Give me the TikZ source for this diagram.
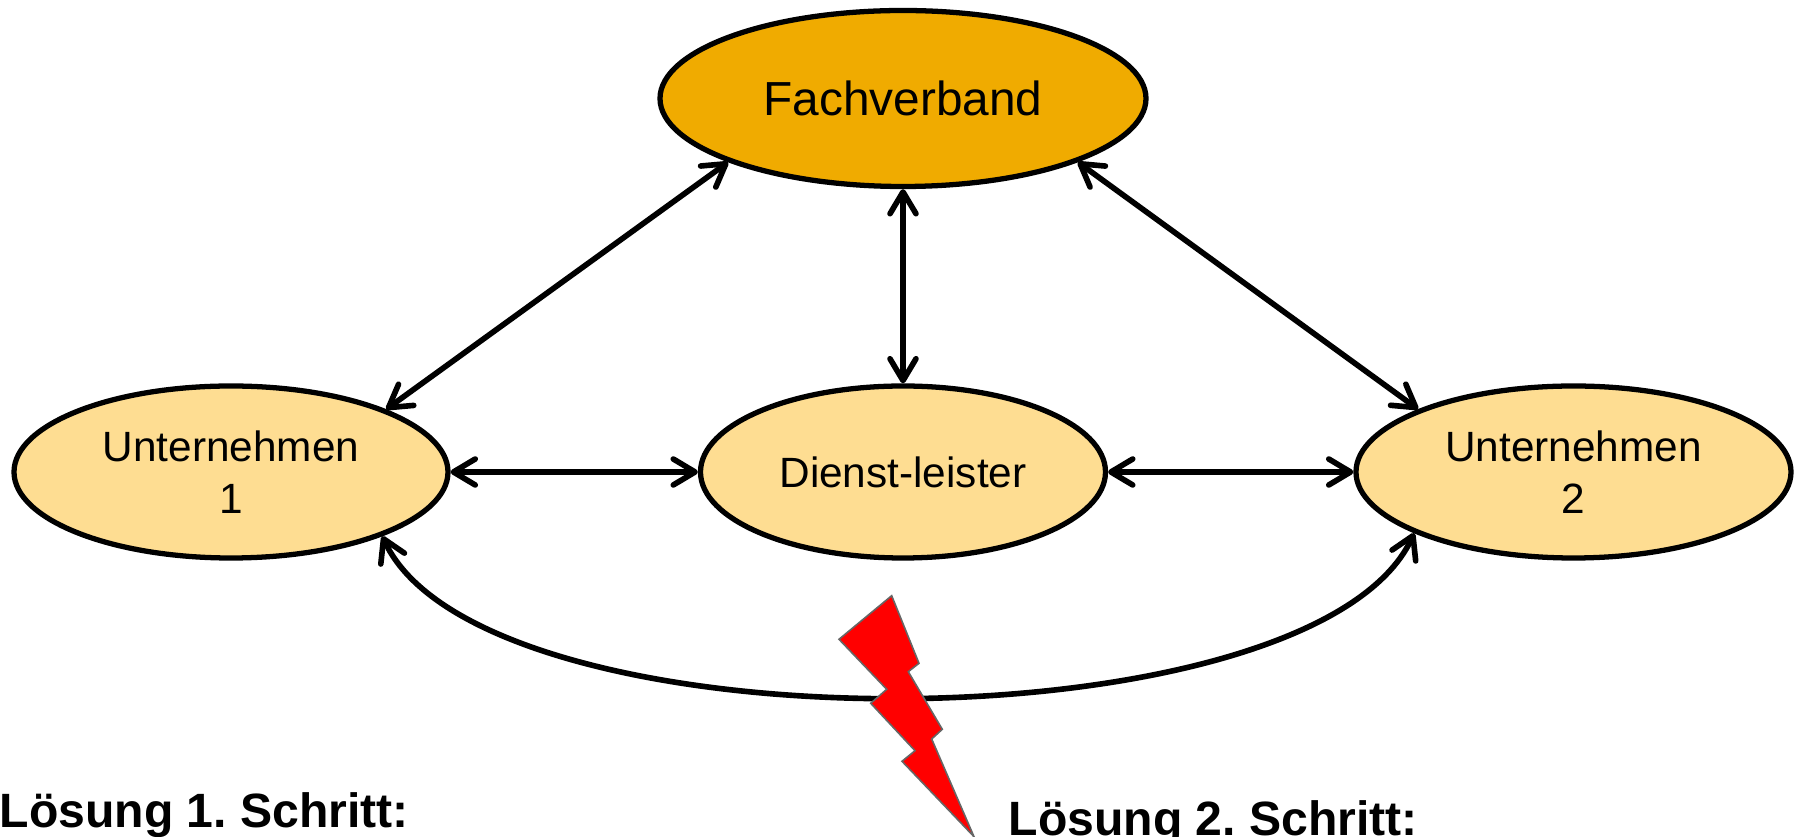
\documentclass[tikz,border=0pt]{standalone}
\usepackage{fontspec}
\setmainfont{Liberation Sans}
\usetikzlibrary{arrows.meta}
\usetikzlibrary{shapes.geometric}
\definecolor{dark}{HTML}{F0AB00}
\definecolor{light}{HTML}{FEDD92}
\definecolor{rim}{HTML}{666666}
\begin{document}
\frenchspacing
\begin{tikzpicture}[
    bubble/.style={draw,ellipse,line width=1.5pt,inner sep=0pt,align=center,font=\fontsize{12.05}{14.9}\selectfont},
    link/.style={line width=1.6pt,{Straight Barb[length=6.2pt,width=7.4pt,round]}-{Straight Barb[length=6.2pt,width=7.4pt,round]}},
    head/.style={inner sep=0pt,anchor=base west,font=\fontsize{13.7}{16}\selectfont\bfseries}]
                    \useasboundingbox (0, 0) rectangle (18.03, 8.37);
                    \draw (9.03, 7.385) node[bubble,fill=dark,minimum width=4.86cm,minimum height=1.76cm,name=F,font=\fontsize{13.6}{16}\selectfont] {Fachverband};
                    \draw (2.31, 3.65) node[bubble,fill=light,minimum width=4.34cm,minimum height=1.72cm,name=A] {Unternehmen\\1};
                    \draw (9.03, 3.65) node[bubble,fill=light,minimum width=4.05cm,minimum height=1.72cm,name=D] {Dienst-leister};
                    \draw (15.735, 3.65) node[bubble,fill=light,minimum width=4.35cm,minimum height=1.72cm,name=B] {Unternehmen\\2};
                    \draw[link] (F.200) -- (A.22);
                    \draw[link] (F.340) -- (B.158);
                    \draw[link] (F.south) -- (D.north);
                    \draw[link] (A.east) -- (D.west);
                    \draw[link] (D.east) -- (B.west);
                    \draw[link] (A.-23) .. controls +(1.0, -2.17) and +(-1.0, -2.17) .. (B.201);
                    % flash over the lower link
                    \draw[fill=red,draw=rim,line width=0.45pt,line join=miter] (8.917, 2.413) -- (9.19, 1.737) -- (9.083, 1.653) -- (9.423, 1.077) -- (9.317, 0.98) -- (9.74, 0.003) -- (9.02, 0.757) -- (9.15, 0.863) -- (8.707, 1.337) -- (8.867, 1.477) -- (8.39, 1.977) -- cycle;
                    \draw (-0.01, 0.09) node[head,name=S] {Lösung 1. Schritt:};
                    \draw (10.08, 0.01) node[head,name=T] {Lösung 2. Schritt:};
                \end{tikzpicture}
\end{document}
